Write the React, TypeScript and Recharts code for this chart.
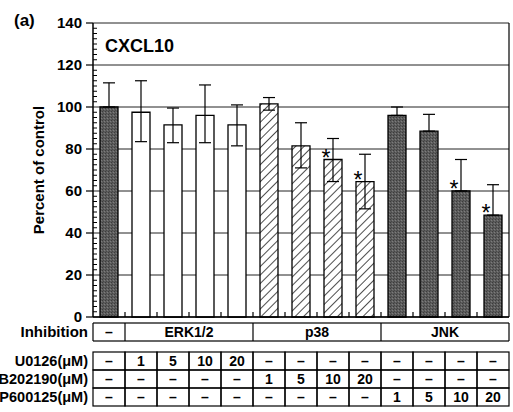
import React from "react";
import {
  BarChart,
  Bar,
  XAxis,
  YAxis,
  CartesianGrid,
  ErrorBar,
  Cell,
  LabelList,
} from "recharts";

// one entry per bar, left to right
const conditions = [
  "Control",
  "U0126 1",
  "U0126 5",
  "U0126 10",
  "U0126 20",
  "SB202190 1",
  "SB202190 5",
  "SB202190 10",
  "SB202190 20",
  "SP600125 1",
  "SP600125 5",
  "SP600125 10",
  "SP600125 20",
];
const percentOfControl = [100, 97.5, 91.5, 96, 91.5, 101.5, 81.5, 75, 64.5, 96, 88.5, 60, 48.5];
const errorHigh = [11.5, 15, 8, 14.5, 9.5, 3, 11, 10, 13, 4, 8, 15, 14.5];
const errorLow = [0, 14, 8.5, 13, 10, 3, 10.5, 10.5, 13, 0, 0, 0, 0];
const barKind = [
  "dark",
  "open", "open", "open", "open",
  "hatch", "hatch", "hatch", "hatch",
  "dark", "dark", "dark", "dark",
];
const significant = [false, false, false, false, false, false, false, true, true, false, false, true, true];

const yTicks = [0, 20, 40, 60, 80, 100, 120, 140];
// every 2.5 %, majors get a label
const yAllTicks = Array.from({ length: 57 }, (_, i) => i * 2.5);

// table under the bars
const inhibitionLabels = ["–", "ERK1/2", "p38", "JNK"];
const inhibitionSpans = [1, 4, 4, 4];
const rowLabels = ["U0126(μM)", "SB202190(μM)", "SP600125(μM)"];
const u0126 = ["–", "1", "5", "10", "20", "–", "–", "–", "–", "–", "–", "–", "–"];
const sb202190 = ["–", "–", "–", "–", "–", "1", "5", "10", "20", "–", "–", "–", "–"];
const sp600125 = ["–", "–", "–", "–", "–", "–", "–", "–", "–", "1", "5", "10", "20"];
const doseRows = [u0126, sb202190, sp600125];

const data = conditions.map((name, i) => ({
  name,
  value: percentOfControl[i],
  err: [errorLow[i], errorHigh[i]],
  kind: barKind[i],
  sig: significant[i],
}));

const FONT = "'Liberation Sans', Arial, sans-serif";
const W = 513;
const H = 412;
const LEFT = 93;
const RIGHT = 4;
const BAND = (W - LEFT - RIGHT) / conditions.length;

const fills: Record<string, string> = {
  dark: "url(#stipple)",
  open: "#ffffff",
  hatch: "url(#hatch)",
};

function YTick(props: any) {
  const { x, y, payload } = props;
  const v = payload.value as number;
  const major = v % 20 === 0;
  if (!major) {
    return <line x1={x} x2={x + 4} y1={y} y2={y} stroke="#000" strokeWidth={1} />;
  }
  return (
    <g>
      <line x1={x - 7} x2={x} y1={y} y2={y} stroke="#000" strokeWidth={1.2} />
      <text
        x={x - 11}
        y={y + 5}
        textAnchor="end"
        fontSize={15}
        fontWeight={700}
        fontFamily={FONT}
        fill="#000"
      >
        {v}
      </text>
    </g>
  );
}

function TableTick(props: any) {
  const { x, y, index } = props;
  const i = index as number;
  const half = BAND / 2;
  const left = x - half;
  const right = x + half;
  const last = conditions.length - 1;
  const txt = { fontFamily: FONT, fontWeight: 700, fill: "#000" } as const;

  // which inhibition group this column belongs to
  let start = 0;
  let g = 0;
  while (g < inhibitionSpans.length && i >= start + inhibitionSpans[g]) {
    start += inhibitionSpans[g];
    g++;
  }
  const span = inhibitionSpans[g];
  const inhTop = y + 6;
  const rowH = 18;

  return (
    <g>
      {i < last && <line x1={right} x2={right} y1={y} y2={y - 5} stroke="#000" strokeWidth={1.2} />}

      <line x1={left} x2={right} y1={inhTop} y2={inhTop} stroke="#000" strokeWidth={1.2} />
      <line x1={left} x2={right} y1={inhTop + rowH} y2={inhTop + rowH} stroke="#000" strokeWidth={1.2} />
      {i === start && <line x1={left} x2={left} y1={inhTop} y2={inhTop + rowH} stroke="#000" strokeWidth={1.2} />}
      {i === last && <line x1={right} x2={right} y1={inhTop} y2={inhTop + rowH} stroke="#000" strokeWidth={1.2} />}
      {i === start && (
        <text x={left + (span * BAND) / 2} y={inhTop + 14} textAnchor="middle" fontSize={14} {...txt}>
          {inhibitionLabels[g]}
        </text>
      )}
      {i === 0 && (
        <text x={left - 5} y={inhTop + 14} textAnchor="end" fontSize={15} {...txt}>
          Inhibition
        </text>
      )}

      {doseRows.map((row, r) => {
        const top = y + 35 + r * rowH;
        return (
          <g key={r}>
            <rect x={left} y={top} width={BAND} height={rowH} fill="none" stroke="#000" strokeWidth={1.2} />
            <text x={x} y={top + 14} textAnchor="middle" fontSize={14} {...txt}>
              {row[i]}
            </text>
            {i === 0 && (
              <text x={left - 5} y={top + 14} textAnchor="end" fontSize={14.5} {...txt}>
                {rowLabels[r]}
              </text>
            )}
          </g>
        );
      })}
    </g>
  );
}

function Asterisk(props: any) {
  const { x, y, index } = props;
  if (!significant[index]) return null;
  return (
    <text x={x + 2} y={y + 6} textAnchor="middle" fontSize={23} fontFamily={FONT} fill="#000">
      *
    </text>
  );
}

export default function App() {
  return (
    <div style={{ position: "absolute", left: 0, top: 0, background: "#fff" }}>
      <BarChart
        width={W}
        height={H}
        data={data}
        margin={{ top: 23, right: RIGHT, left: 0, bottom: 5 }}
        barSize={18}
      >
        <defs>
          <pattern id="stipple" width={3} height={3} patternUnits="userSpaceOnUse">
            <rect width={3} height={3} fill="#5c5c5c" />
            <rect x={0} y={0} width={1} height={1} fill="#3c3c3c" />
            <rect x={2} y={1} width={1} height={1} fill="#7c7c7c" />
            <rect x={1} y={2} width={1} height={1} fill="#474747" />
          </pattern>
          <pattern
            id="hatch"
            width={6}
            height={6}
            patternUnits="userSpaceOnUse"
            patternTransform="rotate(45)"
          >
            <rect width={6} height={6} fill="#fff" />
            <line x1={0} y1={0} x2={0} y2={6} stroke="#000" strokeWidth={1.4} />
          </pattern>
        </defs>

        <CartesianGrid vertical={false} horizontalValues={yTicks} stroke="#222" strokeWidth={1} />
        <XAxis
          dataKey="name"
          height={90}
          interval={0}
          tickLine={false}
          tickSize={0}
          tickMargin={0}
          axisLine={{ stroke: "#000", strokeWidth: 1.5 }}
          tick={<TableTick />}
        />
        <YAxis
          width={LEFT}
          domain={[0, 140]}
          ticks={yAllTicks}
          interval={0}
          tickSize={0}
          tickMargin={0}
          tickLine={false}
          axisLine={{ stroke: "#000", strokeWidth: 1.5 }}
          tick={<YTick />}
          label={{
            value: "Percent of control",
            angle: -90,
            position: "insideLeft",
            offset: 39,
            style: { textAnchor: "middle", fill: "#000", fontSize: 15, fontWeight: 700, fontFamily: FONT },
          }}
        />
        <YAxis
          yAxisId="right"
          orientation="right"
          mirror
          domain={[0, 140]}
          tick={false}
          tickLine={false}
          axisLine={{ stroke: "#000", strokeWidth: 1.2 }}
        />

        <Bar dataKey="value" isAnimationActive={false} stroke="#000" strokeWidth={1.3}>
          {data.map((d, i) => (
            <Cell key={i} fill={fills[d.kind]} />
          ))}
          <ErrorBar dataKey="err" width={6} stroke="#000" strokeWidth={1.2} direction="y" />
          <LabelList dataKey="value" content={<Asterisk />} />
        </Bar>

        <text x={14} y={26} fontSize={17} fontWeight={700} fontFamily={FONT} fill="#000">
          (a)
        </text>
        <text x={105} y={52} fontSize={18} fontWeight={700} fontFamily={FONT} fill="#000">
          CXCL10
        </text>
      </BarChart>
    </div>
  );
}
